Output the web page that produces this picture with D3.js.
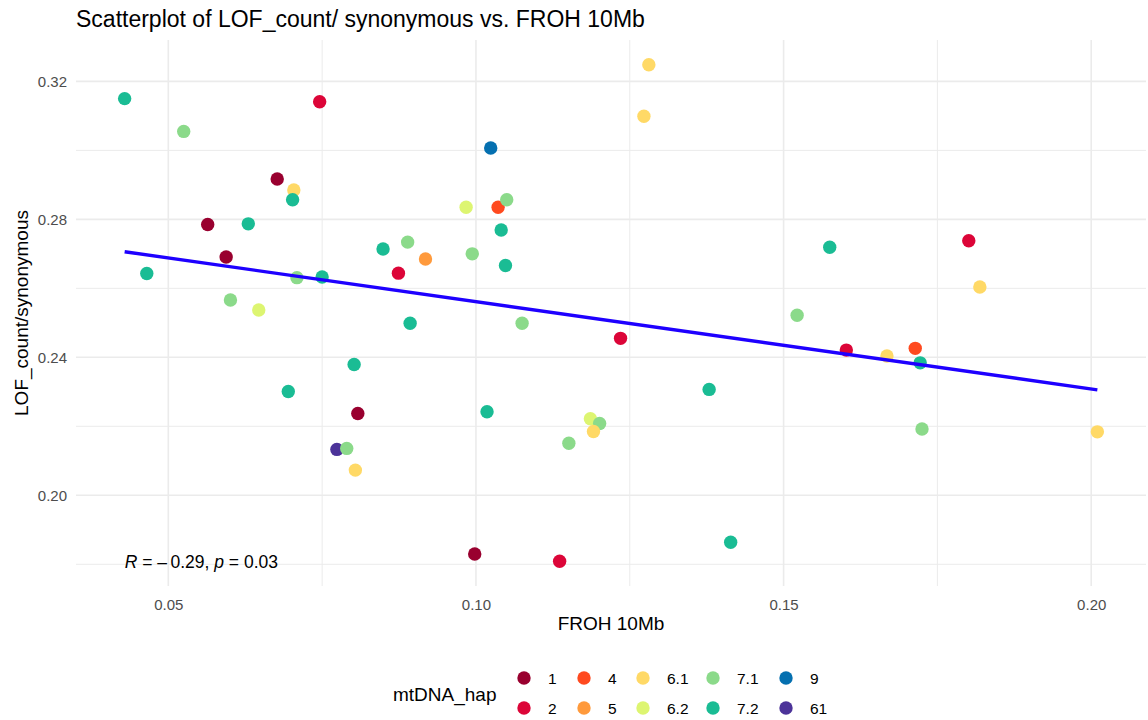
<!DOCTYPE html>
<html><head><meta charset="utf-8">
<script src="https://cdn.jsdelivr.net/npm/d3@7"></script>
<style>body{margin:0;background:#fff;font-family:"Liberation Sans",Arial,sans-serif;}</style>
</head><body><svg id="c" width="1148" height="720"></svg>
<script>
const froh = [0.0429,0.0525,0.0746,0.0677,0.0704,0.0702,0.0564,0.0630,0.0594,0.0465,0.0709,0.0750,0.0849,0.0889,0.0918,0.0874,0.0601,0.0647,0.0893,0.0802,0.0695,0.0808,0.0774,0.0790,0.0804,0.1281,0.1273,0.1024,0.0984,0.1036,0.1050,0.1041,0.0994,0.1048,0.1075,0.1235,0.1379,0.1018,0.1186,0.1201,0.1191,0.1151,0.0998,0.1136,0.1414,0.1522,0.1575,0.1801,0.1819,0.1602,0.1668,0.1714,0.1722,0.1725,0.2010];
const lofRatio = [0.3150,0.3055,0.3141,0.2917,0.2885,0.2857,0.2785,0.2787,0.2691,0.2643,0.2631,0.2633,0.2714,0.2734,0.2685,0.2644,0.2566,0.2537,0.2499,0.2379,0.2301,0.2237,0.2133,0.2136,0.2073,0.3248,0.3099,0.3007,0.2835,0.2835,0.2857,0.2769,0.2700,0.2666,0.2499,0.2455,0.2307,0.2242,0.2222,0.2208,0.2185,0.2151,0.1830,0.1809,0.1864,0.2522,0.2719,0.2738,0.2604,0.2421,0.2404,0.2426,0.2384,0.2192,0.2184];
const hap = ["7.2","7.1","2","1","6.1","7.2","1","7.2","1","7.2","7.1","7.2","7.2","7.1","5","2","7.1","6.2","7.2","7.2","7.2","1","61","7.1","6.1","6.1","6.1","9","6.2","4","7.1","7.2","7.1","7.2","7.1","2","7.2","7.2","6.2","7.1","6.1","7.1","1","2","7.2","7.1","7.2","2","6.1","2","6.1","4","7.2","7.1","6.1"];
const hapLevels = ["1","2","4","5","6.1","6.2","7.1","7.2","9","61"];
const hapColors = ["#99002F","#DC0538","#FF4A1F","#FF9A3C","#FFD966","#DDF571","#8BDA8A","#1ABC94","#0570B0","#4C3399"];
const xTicks = [0.05,0.10,0.15,0.20];
const yTicks = [0.20,0.24,0.28,0.32];
const xMinor = [0.075,0.125,0.175];
const yMinor = [0.18,0.22,0.26,0.30];
const statLabel = {R:"\u2013\u20090.29", p:"0.03"};

const svg = d3.select("#c");
const L=76, R=1146, T=40, B=586;
const xe = d3.extent(froh), ye = d3.extent(lofRatio);
const xp = (xe[1]-xe[0])*0.05, yp=(ye[1]-ye[0])*0.05;
const x = d3.scaleLinear().domain([xe[0]-xp, xe[1]+xp]).range([L,R]);
const y = d3.scaleLinear().domain([ye[0]-yp, ye[1]+yp]).range([B,T]);
const color = d3.scaleOrdinal().domain(hapLevels).range(hapColors);

const g = svg.append("g");
g.selectAll(".xm").data(xMinor).join("line").attr("x1",d=>x(d)).attr("x2",d=>x(d)).attr("y1",T).attr("y2",B).attr("stroke","#EBEBEB").attr("stroke-width",1);
g.selectAll(".ym").data(yMinor).join("line").attr("y1",d=>y(d)).attr("y2",d=>y(d)).attr("x1",L).attr("x2",R).attr("stroke","#EBEBEB").attr("stroke-width",1);
g.selectAll(".xM").data(xTicks).join("line").attr("x1",d=>x(d)).attr("x2",d=>x(d)).attr("y1",T).attr("y2",B).attr("stroke","#EBEBEB").attr("stroke-width",1.6);
g.selectAll(".yM").data(yTicks).join("line").attr("y1",d=>y(d)).attr("y2",d=>y(d)).attr("x1",L).attr("x2",R).attr("stroke","#EBEBEB").attr("stroke-width",1.6);

const xa = svg.append("g").attr("transform",`translate(0,${B})`).call(d3.axisBottom(x).tickValues(xTicks).tickFormat(d3.format(".2f")).tickSize(0).tickPadding(13));
const ya = svg.append("g").attr("transform",`translate(${L},0)`).call(d3.axisLeft(y).tickValues(yTicks).tickFormat(d3.format(".2f")).tickSize(0).tickPadding(9));
[xa,ya].forEach(a=>{a.select(".domain").remove();a.selectAll("text").attr("fill","#4D4D4D").style("font-size","15px").style("font-family","Liberation Sans, Arial, sans-serif");});

svg.append("g").selectAll("circle").data(froh.map((d,i)=>({x:d,y:lofRatio[i],h:hap[i]}))).join("circle")
 .attr("cx",d=>x(d.x)).attr("cy",d=>y(d.y)).attr("r",6.7).attr("fill",d=>color(d.h));

const n=froh.length, mx=d3.mean(froh), my=d3.mean(lofRatio);
let sxy=0,sxx=0; for(let i=0;i<n;i++){sxy+=(froh[i]-mx)*(lofRatio[i]-my);sxx+=(froh[i]-mx)**2;}
const slope=sxy/sxx, icp=my-slope*mx;
svg.append("line").attr("x1",x(xe[0])).attr("x2",x(xe[1])).attr("y1",y(icp+slope*xe[0])).attr("y2",y(icp+slope*xe[1])).attr("stroke","#1E00FF").attr("stroke-width",3.4);

const ann = svg.append("text").attr("x",x(xe[0])).attr("y",568).style("font-size","17.5px").attr("fill","#000");
ann.append("tspan").style("font-style","italic").text("R");
ann.append("tspan").text(" = "+statLabel.R+", ");
ann.append("tspan").style("font-style","italic").text("p");
ann.append("tspan").text(" = "+statLabel.p);

svg.append("text").attr("x",76).attr("y",27).style("font-size","23px").text("Scatterplot of LOF_count/ synonymous vs. FROH 10Mb");
svg.append("text").attr("x",(L+R)/2).attr("y",630).attr("text-anchor","middle").style("font-size","19px").text("FROH 10Mb");
svg.append("text").attr("transform",`translate(28,${(T+B)/2}) rotate(-90)`).attr("text-anchor","middle").style("font-size","19px").text("LOF_count/synonymous");

const leg = svg.append("g");
leg.append("text").attr("x",393).attr("y",701).style("font-size","19px").text("mtDNA_hap");
const colX=[524,584,643,713,786], rowY=[678,708];
hapLevels.forEach((h,i)=>{
  const c=Math.floor(i/2), r=i%2;
  leg.append("circle").attr("cx",colX[c]).attr("cy",rowY[r]).attr("r",6.7).attr("fill",color(h));
  leg.append("text").attr("x",colX[c]+24).attr("y",rowY[r]+5.5).style("font-size","15.5px").text(h);
});
</script></body></html>
